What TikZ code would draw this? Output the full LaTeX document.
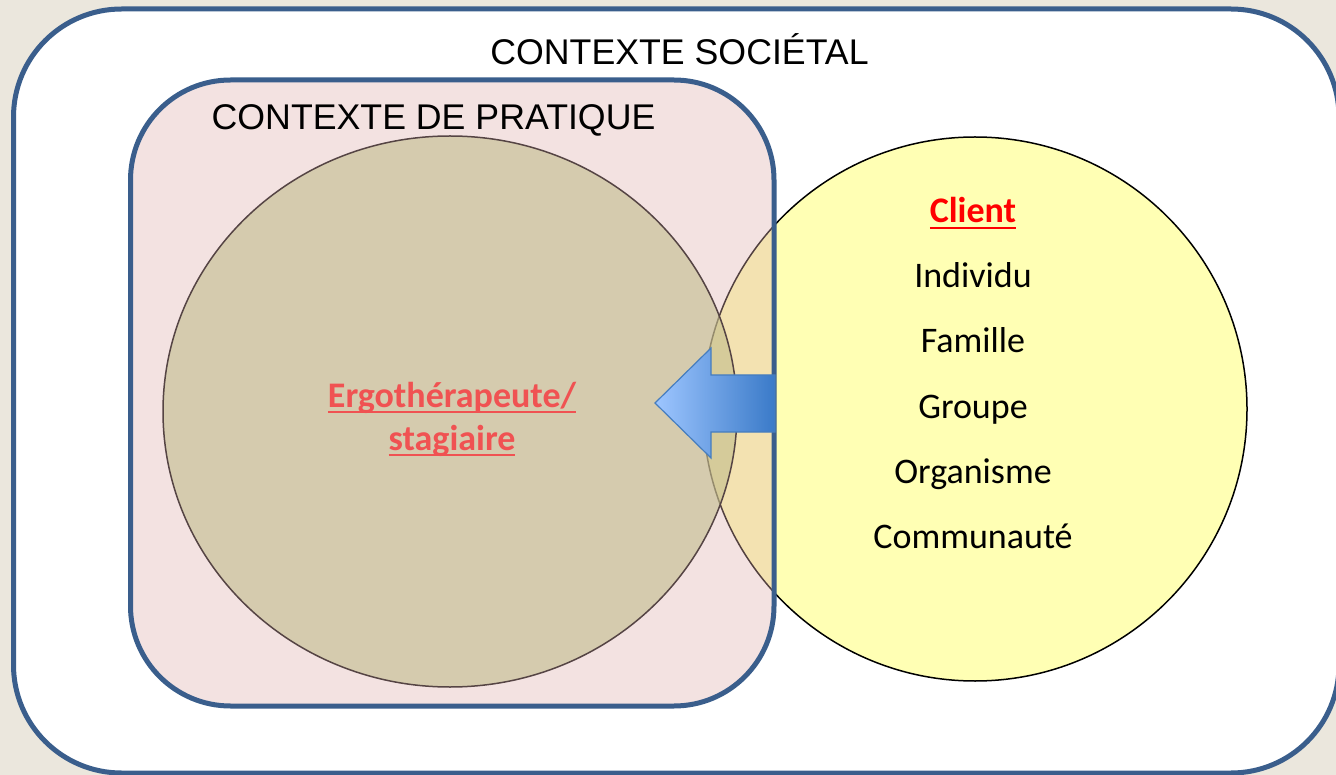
\documentclass[tikz,border=0pt]{standalone}
\usepackage{fontspec}
\setmainfont{Carlito}
\newfontfamily\arialf{Liberation Sans}
\newcommand\myul[1]{\setbox0\hbox{#1}\rlap{\rule[-6pt]{\wd0}{2.4pt}}\box0}
\definecolor{bgc}{RGB}{235,231,221}
\definecolor{frameblue}{RGB}{58,94,140}
\definecolor{pinkc}{RGB}{225,177,174}
\definecolor{tanc}{RGB}{194,189,140}
\definecolor{tanline}{RGB}{85,68,68}
\definecolor{yellowc}{RGB}{255,255,180}
\definecolor{ergored}{RGB}{240,82,82}
\definecolor{clientred}{RGB}{255,0,0}
\definecolor{arrowlight}{RGB}{158,198,255}
\definecolor{arrowdark}{RGB}{58,122,200}
\definecolor{arrowline}{RGB}{70,125,190}
\tikzset{
  framebox/.style={draw=frameblue, line width=5pt},
  ctxlabel/.style={font=\arialf\fontsize{35.7}{40}\selectfont, anchor=base, inner sep=0pt},
  itemlabel/.style={font=\fontsize{36}{43}\selectfont, anchor=base, inner sep=0pt},
  boldlabel/.style={itemlabel, font=\bfseries\fontsize{36}{43}\selectfont},
}
\begin{document}
\begin{tikzpicture}[x=1pt,y=-1pt]
\useasboundingbox (0,0) rectangle (1336,775);
\clip (0,0) rectangle (1336,775);
\fill[bgc] (0,0) rectangle (1336,775);
% outer societal context
\path[framebox, fill=white, rounded corners=108pt] (13.5,9) rectangle (1339,773);
% client circle
\path[draw=black, line width=1.5pt, fill=yellowc] (975,409) circle (272);
% practice context
\path[draw=frameblue, line width=5pt, fill=pinkc, fill opacity=0.37, rounded corners=100pt] (130.5,80) rectangle (774,706);
% therapist ellipse
\path[draw=tanline, line width=1.5pt, fill=tanc, fill opacity=0.6] (450,411.5) ellipse [x radius=287, y radius=275.5];
% arrow
\path[draw=arrowline, line width=1.2pt, left color=arrowlight, right color=arrowdark, line join=miter]
  (775,375) -- (711,375) -- (711,348) -- (655,403) -- (711,458) -- (711,432) -- (775,432) -- cycle;
% texts
\node[ctxlabel] (soc) at (679.5,65) {CONTEXTE SOCIÉTAL};
\node[ctxlabel] (prat) at (433.5,130) {CONTEXTE DE PRATIQUE};
\node[boldlabel, text=ergored] (ergo1) at (452,407) {\myul{Ergothérapeute/}};
\node[boldlabel, text=ergored] (ergo2) at (452,450) {\myul{stagiaire}};
\node[boldlabel, text=clientred] (client) at (973,223) {\myul{Client}};
\node[itemlabel] (ind) at (973,288) {Individu};
\node[itemlabel] (fam) at (973,353) {Famille};
\node[itemlabel] (grp) at (973,418) {Groupe};
\node[itemlabel] (org) at (973,483) {Organisme};
\node[itemlabel] (com) at (973,548) {Communauté};
\end{tikzpicture}
\end{document}
